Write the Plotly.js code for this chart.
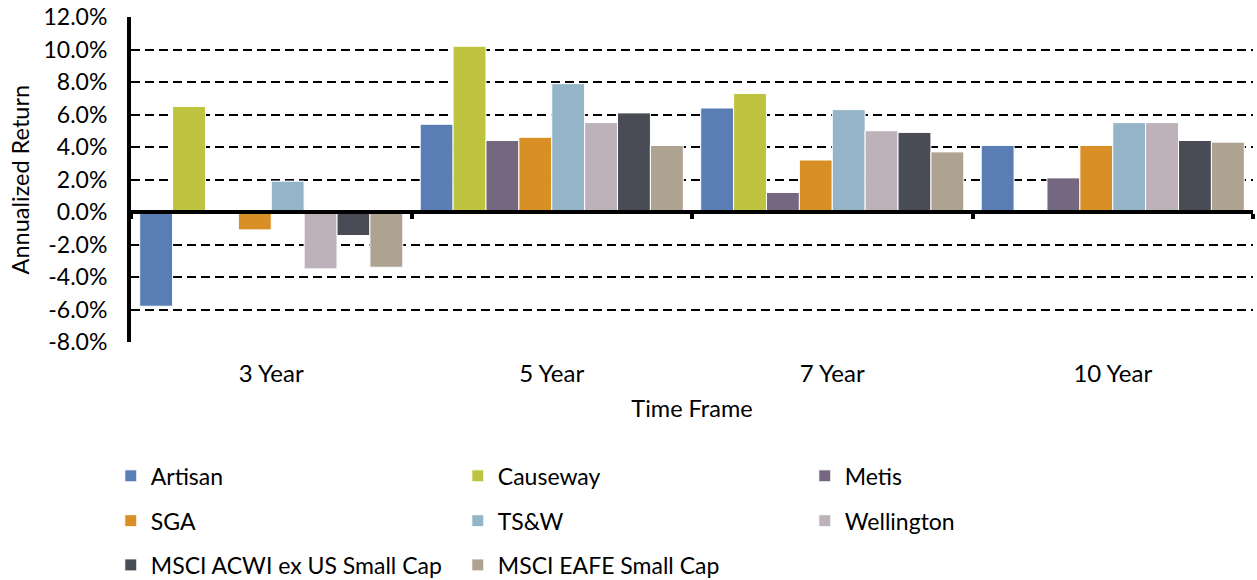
<!DOCTYPE html>
<html>
<head>
<meta charset="utf-8">
<script src="https://cdn.plot.ly/plotly-3.0.1.min.js"></script>
<style>html,body{margin:0;padding:0;background:#fff;}#chart{width:1257px;height:580px;}</style>
</head>
<body>
<div id="chart"></div>
<script>
const categories = ["3 Year", "5 Year", "7 Year", "10 Year"];
const seriesNames = ["Artisan", "Causeway", "Metis", "SGA", "TS&W", "Wellington", "MSCI ACWI ex US Small Cap", "MSCI EAFE Small Cap"];
const artisan    = [-5.8, 5.4, 6.4, 4.1];
const causeway   = [6.5, 10.2, 7.3, null];
const metis      = [null, 4.4, 1.2, 2.1];
const sga        = [-1.1, 4.6, 3.2, 4.1];
const tsw        = [1.9, 7.9, 6.3, 5.5];
const wellington = [-3.5, 5.5, 5.0, 5.5];
const acwi       = [-1.45, 6.1, 4.9, 4.4];
const eafe       = [-3.4, 4.1, 3.7, 4.3];
const seriesValues = [artisan, causeway, metis, sga, tsw, wellington, acwi, eafe];
const colors = ["#5B7DB5", "#BFC440", "#74677F", "#D89026", "#94B5C8", "#BDB1BA", "#4A4C55", "#AEA391"];
const legendRows = ["legend", "legend", "legend", "legend2", "legend2", "legend2", "legend3", "legend3"];
const yTickVals = [-8, -6, -4, -2, 0, 2, 4, 6, 8, 10, 12];
const yTickText = ["-8.0%", "-6.0%", "-4.0%", "-2.0%", "0.0%", "2.0%", "4.0%", "6.0%", "8.0%", "10.0%", "12.0%"];
const yTitle = "Annualized Return";

const FONT = "Lato, 'Noto Sans', sans-serif";

const traces = seriesNames.map((name, i) => ({
  type: "bar",
  name: name,
  x: categories,
  y: seriesValues[i],
  marker: { color: colors[i], line: { color: "#ffffff", width: 1 } },
  legend: legendRows[i],
  hoverinfo: "x+y+name"
}));

// invisible helper trace so the zero-level axis with boundary ticks is drawn
traces.push({
  type: "scatter", mode: "none", x: categories, y: [0, 0, 0, 0],
  xaxis: "x2", yaxis: "y", showlegend: false, hoverinfo: "skip"
});

const legendCommon = {
  orientation: "h", xanchor: "left", yanchor: "middle",
  x: -0.018, entrywidth: 302, entrywidthmode: "pixels",
  font: { family: FONT, size: 23, color: "#000" },
  bgcolor: "rgba(0,0,0,0)", borderwidth: 0, traceorder: "normal"
};

const layout = {
  width: 1257, height: 580,
  margin: { l: 131, r: 4, t: 17, b: 238, autoexpand: false },
  paper_bgcolor: "#fff", plot_bgcolor: "#fff",
  font: { family: FONT, size: 23, color: "#000" },
  barmode: "group", bargap: 0.062, bargroupgap: 0,
  xaxis: {
    type: "category", categoryorder: "array", categoryarray: categories,
    showgrid: false, zeroline: false, showline: false, automargin: true,
    ticks: "outside", ticklen: 10, tickcolor: "rgba(0,0,0,0)",
    tickfont: { family: FONT, size: 24, color: "#000" },
    title: { text: "Time Frame", font: { family: FONT, size: 23.5, color: "#000" }, standoff: 14 },
    fixedrange: true
  },
  xaxis2: {
    type: "category", categoryorder: "array", categoryarray: categories,
    overlaying: "x", matches: "x", anchor: "free", position: 0.4,
    side: "bottom", automargin: false,
    showgrid: false, zeroline: false, showline: true, linecolor: "#000", linewidth: 4,
    ticks: "outside", tickson: "boundaries", ticklen: 5, tickwidth: 4, tickcolor: "#000",
    showticklabels: false, fixedrange: true
  },
  yaxis: {
    range: [-8, 12], tickvals: yTickVals, ticktext: yTickText,
    showline: true, linecolor: "#000", linewidth: 4, automargin: true,
    showgrid: true, gridcolor: "#000", gridwidth: 2, griddash: "9px,5px",
    zeroline: false,
    ticks: "outside", ticklen: 15, tickcolor: "rgba(0,0,0,0)",
    tickfont: { family: FONT, size: 23, color: "#000" },
    fixedrange: true
  },
  annotations: [{
    text: yTitle, textangle: -90, showarrow: false,
    xref: "paper", yref: "paper", x: -0.099, y: 0.5,
    xanchor: "center", yanchor: "middle",
    font: { family: FONT, size: 23.5, color: "#000" }
  }],
  legend: Object.assign({}, legendCommon, { y: -0.412 }),
  legend2: Object.assign({}, legendCommon, { y: -0.55 }),
  legend3: Object.assign({}, legendCommon, { y: -0.686 }),
  showlegend: true
};

Plotly.newPlot("chart", traces, layout, { displayModeBar: false, responsive: false, staticPlot: false });
</script>
</body>
</html>
